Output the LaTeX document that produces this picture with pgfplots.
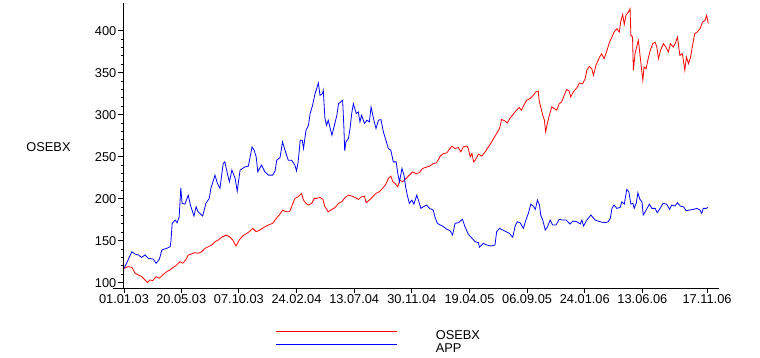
\documentclass[border=0pt]{standalone}
\usepackage{fontspec}
\setmainfont{Liberation Sans}
\usepackage{pgfplots}
\pgfplotsset{compat=1.18}
\begin{document}
\begin{tikzpicture}
\useasboundingbox (0,0) rectangle (760bp,358bp);
\begin{axis}[
  at={(123bp,70bp)}, anchor=south west,
  scale only axis, width=596bp, height=285bp,
  xmin=-2.4, xmax=1445, ymin=93.6, ymax=433,
  axis lines*=left,
  axis line style={line width=0.8bp},
  x axis line style={shorten <=-10bp},
  tick align=outside,
  major tick length=5bp, minor tick length=2.5bp,
  tick style={line width=0.8bp, black},
  xtick={0,139,279,419,559,699,839,979,1119,1259,1416},
  xticklabels={01.01.03,20.05.03,07.10.03,24.02.04,13.07.04,30.11.04,19.04.05,06.09.05,24.01.06,13.06.06,17.11.06},
  ytick={100,150,200,250,300,350,400},
  minor y tick num=4,
  /pgf/number format/assume math mode=true,
  ticklabel style={font=\fontsize{12.85pt}{15pt}\selectfont},
  xticklabel style={inner sep=1bp},
  yticklabel style={inner sep=1.5bp},
  ylabel={OSEBX},
  every axis y label/.style={at={(axis description cs:-0.125,0.495)}, anchor=center, font=\fontsize{12.85pt}{15pt}\selectfont},
  legend cell align=left,
  legend style={at={(axis description cs:0.2567,-0.147)}, anchor=north west, draw=none, fill=none, inner sep=0pt, outer sep=0pt,
    font=\fontsize{12.85pt}{15pt}\selectfont, row sep=-1bp,
    nodes={inner sep=0pt, text height=9.5bp, text depth=4.5bp},
    /tikz/every odd column/.append style={column sep=38bp}},
  legend image code/.code={\draw[#1] (0bp,5.5bp) -- (121bp,5.5bp);},
]
\addplot[red, line width=0.8bp] table {
0 117
10 119
19 118.3
27 111.2
35 109.2
43 107.1
51 103.2
57 100
63 103.2
70 102.4
78 107.1
86 105.2
94 109.2
104 113.1
112 115.1
120 118.3
128 121
136 125
143 123.1
151 127.8
156 132.9
164 134.1
172 135.7
180 134.9
189 136.8
197 140.9
205 142.8
213 144.8
221 148.7
229 150.8
237 154
248 156.7
256 154.7
264 150.8
272 143.6
280 150.8
288 155.5
296 157.9
304 160.6
313 164.7
321 160.6
330 162.6
340 165.9
351 168.6
361 170.6
369 176
379 181.7
385 186.4
394 184.4
402 184.4
407 190.3
415 200.3
423 202.2
431 206.3
436 198.3
442 194.4
448 192.4
456 194.4
462 200.3
468 200.3
476 201.5
483 199.1
488 190.3
496 184.4
505 187.2
513 189.6
521 194.4
529 196.3
537 201.5
545 204.2
553 203.1
561 201.5
569 199.1
577 202.2
584 203.1
588 195.2
596 198.3
604 202.2
612 206.3
620 208.2
628 212.2
636 217.3
642 224.1
648 226.8
653 220
658 218.1
665 214.1
670 222.1
677 220
685 224.1
693 228
701 232
709 230
717 230.7
725 236
733 237.2
743 238.7
751 241.9
759 242.6
768 250.6
776 253.8
784 254.5
790 258.6
796 262.5
804 259.7
812 260.9
818 255.7
824 261.6
833 262.8
836 259.7
841 249.8
845 253.8
849 243.8
853 245.8
861 253
869 250.6
877 255.7
885 261.6
893 267.6
899 272.8
905 277.6
912 283.5
917 294.2
925 292.6
931 290.2
937 295.4
945 300.5
953 305.3
960 308.5
965 305.3
971 311.2
978 317.2
986 319.2
994 323.1
1000 327
1006 328.2
1008 317.2
1012 309.2
1017 299.3
1021 293.4
1024 279.5
1028 289.5
1033 299.3
1039 309.2
1045 307.3
1051 305.3
1057 313.2
1063 315.1
1069 323.1
1075 329.9
1081 328.2
1085 321.1
1091 327
1100 332.2
1106 337.7
1114 337
1120 342.9
1124 352.8
1130 357.5
1136 354.8
1140 346.9
1146 358.7
1155 368.6
1160 372.6
1166 366.7
1173 376.6
1179 386.4
1185 392.4
1190 398.3
1197 402.4
1203 398.3
1206 410.2
1211 419.4
1215 407.5
1219 418.3
1225 422.2
1229 426.2
1231 394.4
1235 392.4
1237 352.8
1241 372.6
1245 380.5
1249 388.5
1251 380.5
1255 362.7
1260 341
1263 356.8
1268 354.8
1273 366.7
1278 376.6
1284 384.5
1290 386.4
1294 380.5
1298 366.7
1303 376.6
1310 384.5
1316 380.5
1322 374.6
1327 384.5
1334 380.5
1340 386.4
1344 392.4
1350 370.6
1356 372.6
1362 352.8
1366 368.6
1371 360.7
1376 368.6
1380 380.5
1386 396.4
1392 398.3
1399 402.4
1405 410.2
1411 412.2
1415 418.3
1419 408.4
};
\addlegendentry{OSEBX}
\addplot[blue, line width=0.8bp] table {
0 117
10 127
19 136.8
27 134
35 133
43 130
51 133
59 129
71 128
78 123
86 128
92 138.9
104 140.9
112 142.8
114 148.7
117 170.6
124 174.5
129 171.3
134 178.4
138 212.9
141 194.4
148 193.5
156 204.2
162 191.2
170 179.3
175 190.3
180 184.4
191 179.3
199 194.4
207 200.3
211 212.2
221 228
227 218.1
233 212.2
241 241.9
245 243.8
251 230
256 220
262 234
270 224
275 209
282 234
294 237.9
302 238.7
308 253.8
311 261.6
316 257.7
321 249.8
325 232
334 240
342 232
351 228
361 228
367 233
371 245.8
379 249
385 267.6
391 257.7
399 245.8
407 245.8
415 240
419 233
423 243.8
428 269.6
433 269.6
436 259.7
442 281.5
448 287.4
452 301.3
458 311.2
464 325.1
468 331
472 337.7
476 323.1
482 325.1
484 329
488 295.4
492 287.4
496 293.4
500 285.4
505 275.6
510 285.4
517 299.3
521 313.2
526 315.1
531 317.2
534 285.4
536 256.9
539 267.6
545 271.6
549 283.5
553 301.3
557 313.2
564 301.3
569 303.3
573 291.4
577 299.3
584 289.5
590 293.4
596 291.4
600 309.2
606 295.4
612 283.5
618 293.4
624 294.2
630 279.5
636 269.6
642 259.7
648 257.7
654 243.8
661 243.8
665 230
669 220
675 236
680 228
684 214.1
688 204.2
693 194.4
699 198.3
704 193.5
711 204.2
715 198.3
721 188.4
727 190.3
735 192.4
742 188.4
751 186.4
755 178.4
761 170.6
768 168.6
776 166.6
784 163.5
792 161.8
798 156.7
804 170.6
812 171.3
822 175.4
828 166.6
836 157.9
845 152.8
853 148.7
861 147.5
863 142.1
873 146.8
881 144.8
891 143.6
901 144.8
905 160.6
912 164.7
920 162.6
928 160.6
936 158.7
944 154
950 167.4
955 172.5
962 171.3
970 164.7
976 174.5
982 182.5
988 193.5
994 191.2
999 187.2
1004 198.3
1009 192.4
1012 180.5
1017 174.5
1023 162.6
1028 165.9
1035 174.5
1041 168.6
1049 168.6
1057 175.4
1066 174.5
1074 174.5
1083 169.8
1090 173.3
1100 172.5
1108 169.8
1112 174.5
1116 167.4
1124 174.5
1134 180.5
1144 174.5
1156 172.5
1168 171.3
1176 172.5
1181 176.5
1185 188.4
1190 192.4
1197 188.4
1205 189.6
1209 196.3
1215 193.5
1221 211
1226 208.2
1231 193.5
1236 194.4
1239 188.4
1244 194.4
1248 207
1253 199.1
1258 196.3
1261 180.5
1268 186.4
1276 193.5
1282 188.4
1290 188.4
1295 183.2
1302 188.4
1309 194.4
1318 193.5
1325 187.2
1330 192.4
1338 191.2
1344 195.2
1351 191.2
1359 190.3
1365 185.6
1373 186.4
1383 187.2
1391 188.4
1399 186.4
1403 182.5
1407 188.4
1414 188.4
1418 189.6
};
\addlegendentry{APP}
\end{axis}
\end{tikzpicture}
\end{document}
